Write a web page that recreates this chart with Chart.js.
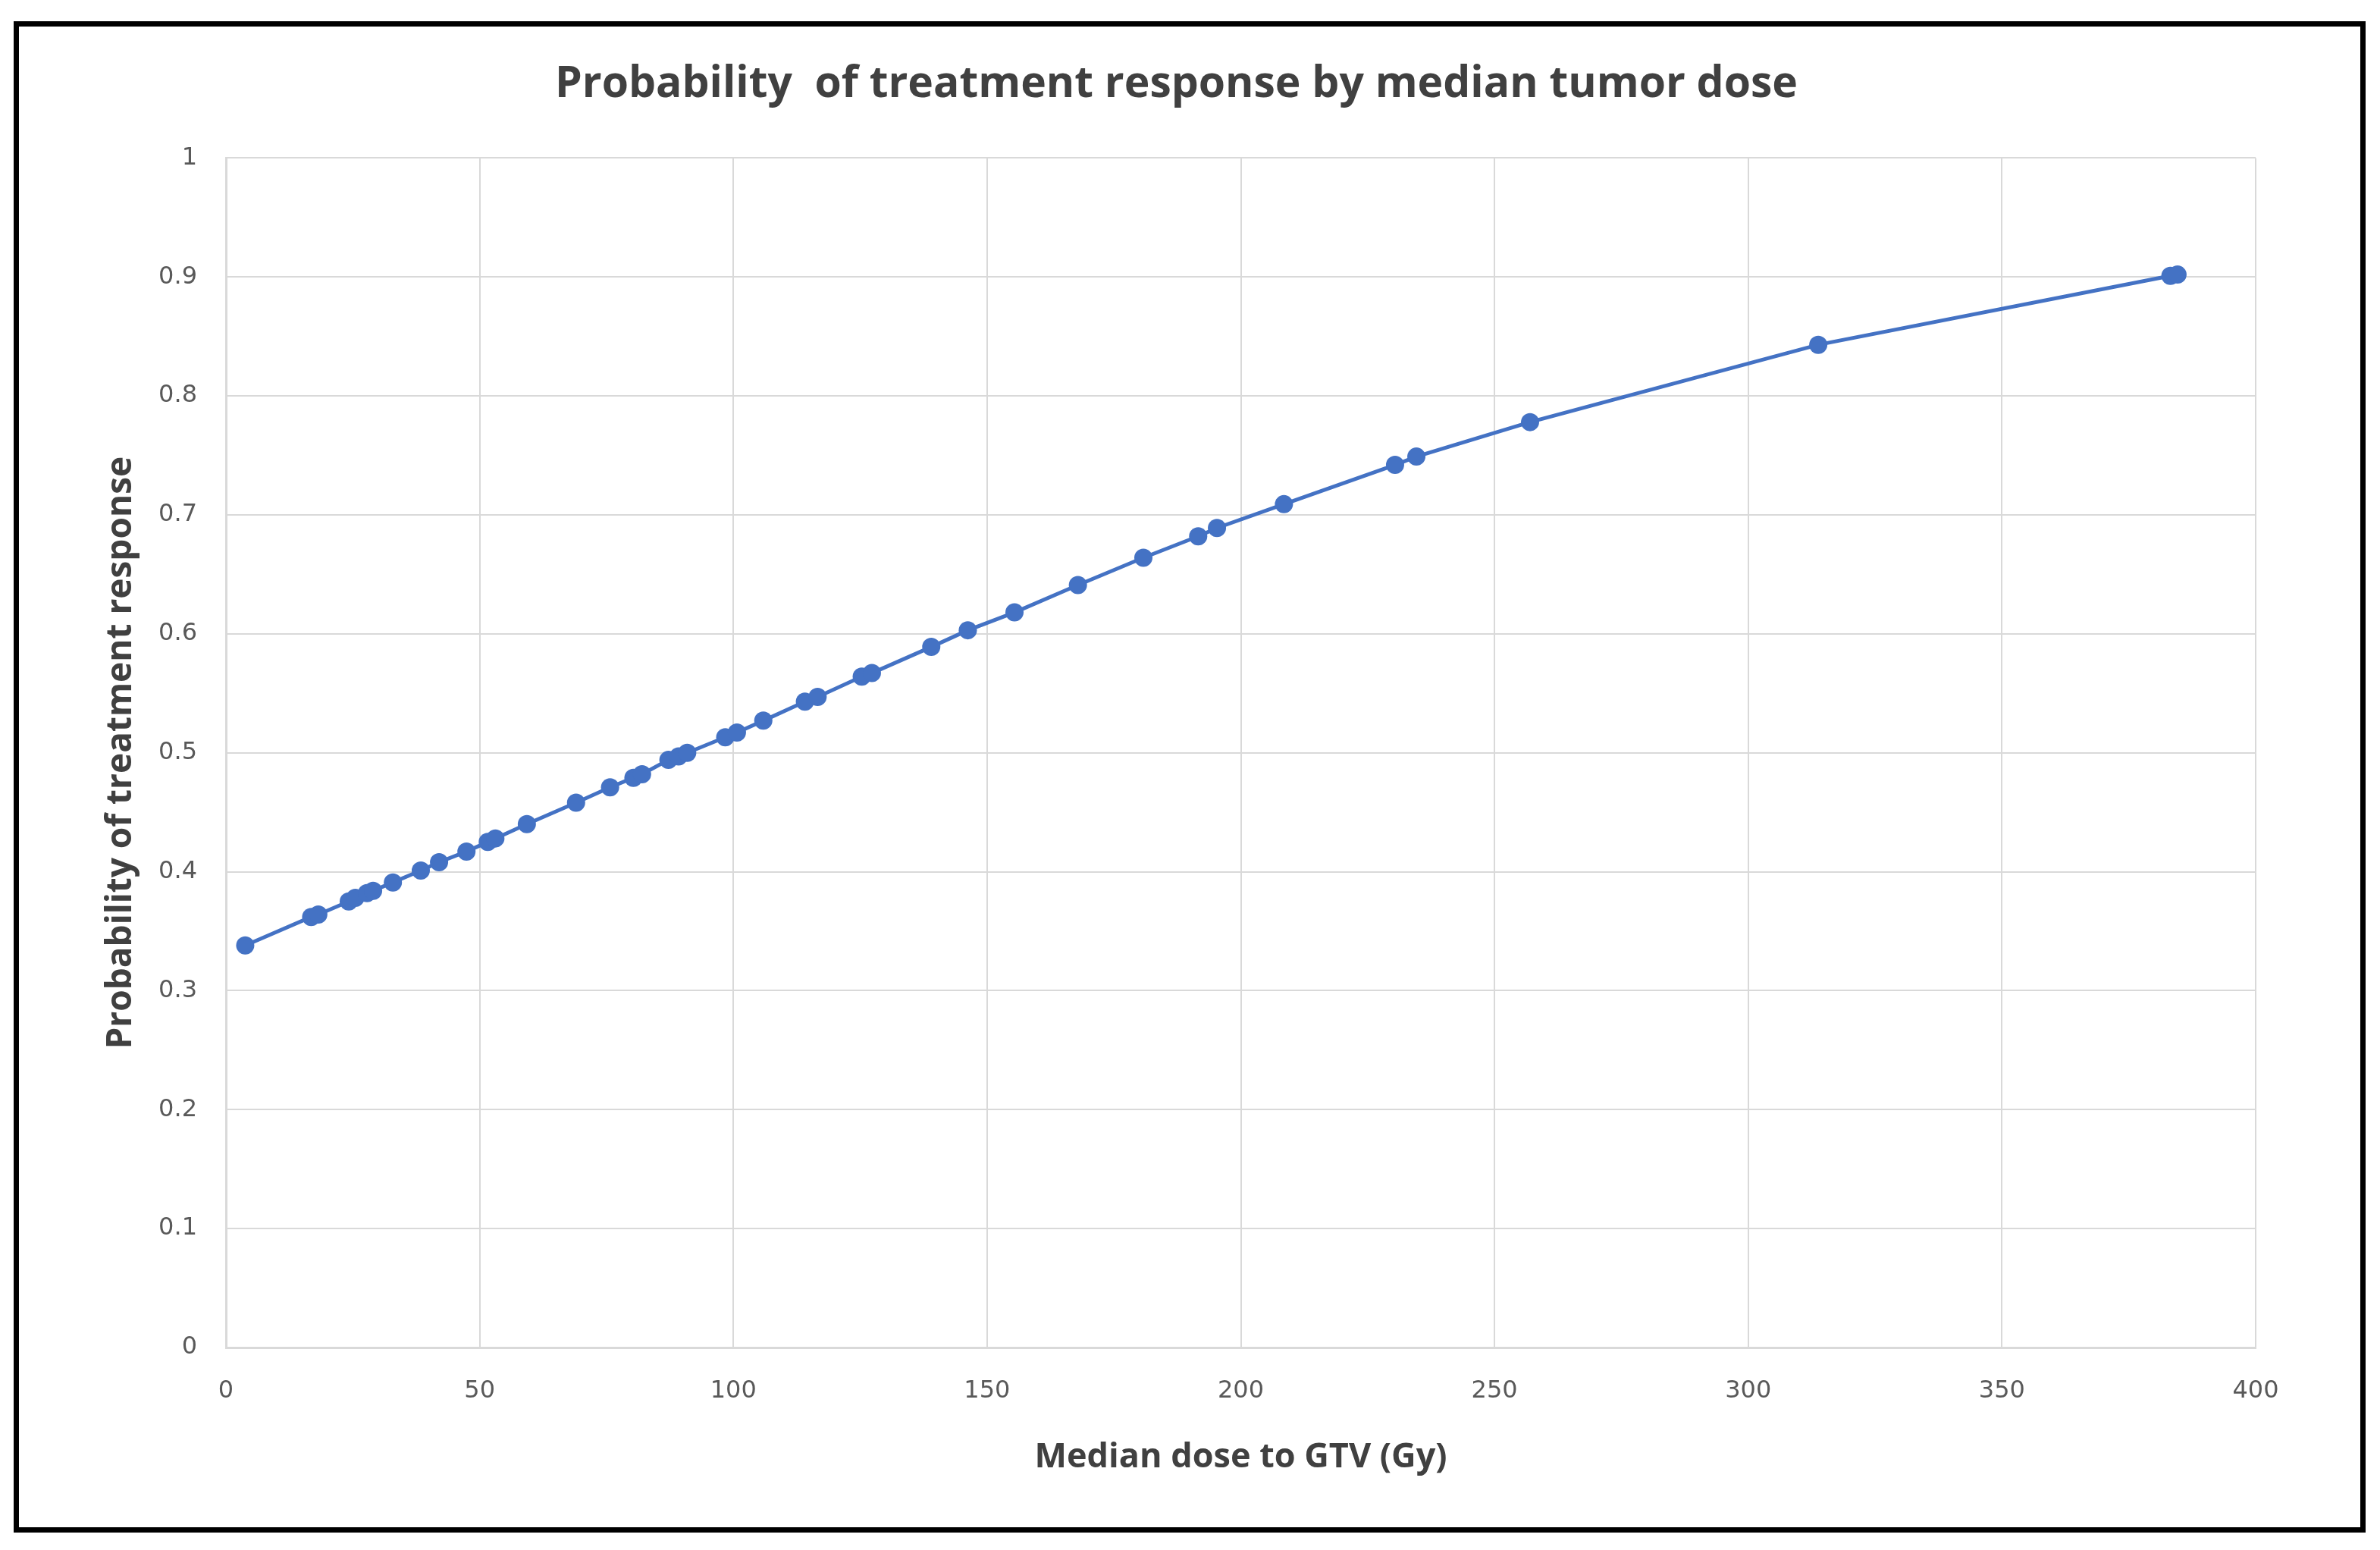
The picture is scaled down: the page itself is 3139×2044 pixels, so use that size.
<!DOCTYPE html>
<html>
<head>
<meta charset="utf-8">
<script src="https://cdn.jsdelivr.net/npm/chart.js@4.4.1/dist/chart.umd.min.js"></script>
<style>
  html, body { margin: 0; padding: 0; background: #fff; }
  #wrap { position: relative; width: 3139px; height: 2044px; }
  #frame {
    position: absolute; left: 18px; top: 28px; width: 3088px; height: 1979px;
    border: 7px solid #000; pointer-events: none;
  }
</style>
</head>
<body>
<div id="wrap">
  <canvas id="doseChart" width="3139" height="2044"></canvas>
  <div id="frame"></div>
</div>
<script>
// median dose to GTV (Gy) and modelled probability of response
const doseGy = [3.8, 16.8, 18.2, 24.2, 25.5, 27.8, 29.0, 32.9, 38.4, 42.0, 47.4, 51.6, 53.1,
    59.3, 69.0, 75.7, 80.3, 82.0, 87.2, 89.2, 90.9, 98.4, 100.7, 105.9, 114.1, 116.6,
    125.3, 127.3, 139.0, 146.2, 155.4, 167.9, 180.8, 191.6, 195.3, 208.5, 230.4, 234.6,
    257.0, 313.8, 383.2, 384.6];
const probResponse = [0.338, 0.362, 0.364, 0.375, 0.378, 0.382, 0.384, 0.391, 0.401, 0.408, 0.417, 0.425, 0.428,
    0.440, 0.458, 0.471, 0.479, 0.482, 0.494, 0.497, 0.500, 0.513, 0.517, 0.527, 0.543, 0.547,
    0.564, 0.567, 0.589, 0.603, 0.618, 0.641, 0.664, 0.682, 0.689, 0.709, 0.742, 0.749,
    0.778, 0.843, 0.901, 0.902];

const xTicks = [0, 50, 100, 150, 200, 250, 300, 350, 400];
const yTicks = [0, 0.1, 0.2, 0.3, 0.4, 0.5, 0.6, 0.7, 0.8, 0.9, 1];

const blue = '#4472C4';
const gridColor = '#D9D9D9';
const tickFont = { family: 'DejaVu Sans', size: 32 };

const points = doseGy.map((x, i) => ({ x, y: probResponse[i] }));

new Chart(document.getElementById('doseChart').getContext('2d'), {
    type: 'scatter',
    data: {
        datasets: [{
            data: points,
            showLine: true,
            borderColor: blue,
            backgroundColor: blue,
            borderWidth: 5,
            pointRadius: 12,
            pointBorderWidth: 0,
            tension: 0
        }]
    },
    options: {
        responsive: false,
        devicePixelRatio: 1,
        animation: false,
        layout: { padding: { left: 128, right: 164, top: 28, bottom: 91 } },
        plugins: {
            legend: { display: false },
            tooltip: { enabled: false },
            title: {
                display: true,
                text: 'Probability  of treatment response by median tumor dose',
                color: '#404040',
                font: { family: 'Open Sans', size: 57, weight: 'bold' },
                padding: { top: 50, bottom: 62 }
            }
        },
        scales: {
            x: {
                type: 'linear',
                min: 0,
                max: 400,
                afterBuildTicks: (s) => { s.ticks = xTicks.map(v => ({ value: v })); },
                afterFit: (s) => { s.height = 176; },
                ticks: { color: '#595959', font: tickFont, padding: 38 },
                grid: { color: gridColor, lineWidth: 2, drawTicks: false },
                border: { color: gridColor, width: 3 },
                title: {
                    display: true,
                    text: 'Median dose to GTV (Gy)',
                    color: '#404040',
                    font: { family: 'Open Sans', size: 45, weight: 'bold' }
                }
            },
            y: {
                type: 'linear',
                min: 0,
                max: 1,
                afterBuildTicks: (s) => { s.ticks = yTicks.map(v => ({ value: v })); },
                afterFit: (s) => { s.width = 170; },
                ticks: { color: '#595959', font: tickFont, padding: 38, callback: (v) => String(+v.toFixed(1)) },
                grid: { color: gridColor, lineWidth: 2, drawTicks: false },
                border: { color: gridColor, width: 3 },
                title: {
                    display: true,
                    text: 'Probability of treatment response',
                    color: '#404040',
                    font: { family: 'Open Sans', size: 46, weight: 'bold' }
                }
            }
        }
    }
});
</script>
</body>
</html>
